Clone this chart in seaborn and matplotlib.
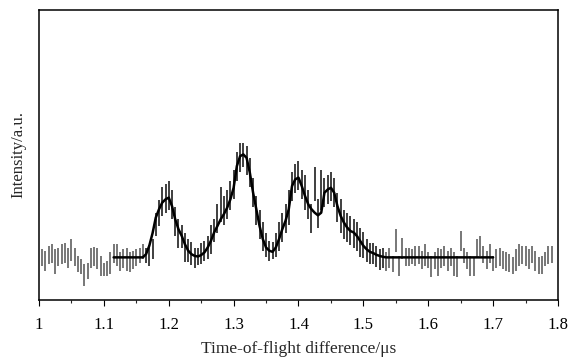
import numpy as np
import pandas as pd
import matplotlib
matplotlib.use("Agg")
import matplotlib.pyplot as plt
import seaborn as sns
from matplotlib.ticker import MultipleLocator

# ---- data (intensity in arbitrary units) ----
# left background bars
t_left = [1.005, 1.010, 1.015, 1.020, 1.025, 1.030, 1.035, 1.040, 1.045, 1.050,
          1.055, 1.060, 1.065, 1.070, 1.075, 1.080, 1.085, 1.090, 1.095, 1.100,
          1.105, 1.110, 1.115, 1.120, 1.125, 1.130, 1.135, 1.140, 1.145, 1.150,
          1.155, 1.160]
lo_left = [11.8, 10.1, 12.4, 12.9, 8.9, 11.8, 12.4, 12.9, 11.2, 13.5,
           11.8, 9.5, 8.9, 4.9, 7.2, 11.2, 11.8, 10.7, 8.4, 8.4,
           8.4, 8.9, 12.9, 11.8, 10.1, 11.2, 10.1, 9.5, 10.7, 11.8,
           12.9, 14.1]
hi_left = [17.5, 17.0, 18.7, 19.2, 17.5, 18.1, 19.2, 19.8, 18.1, 21.0,
           18.1, 15.2, 14.1, 12.4, 12.9, 18.1, 18.4, 18.1, 15.2, 12.9,
           13.5, 16.4, 19.2, 19.2, 16.4, 17.5, 18.1, 16.4, 17.0, 17.5,
           18.1, 19.2]

# peak region bars (centre and half length)
t_peak = [1.165, 1.170, 1.175, 1.180, 1.185, 1.190, 1.195, 1.200, 1.205, 1.210,
          1.215, 1.220, 1.225, 1.230, 1.235, 1.240, 1.245, 1.250, 1.255, 1.260,
          1.265, 1.270, 1.275, 1.280, 1.285, 1.290, 1.295, 1.300, 1.305, 1.310,
          1.315, 1.320, 1.325, 1.330, 1.335, 1.340, 1.345, 1.350, 1.355, 1.360,
          1.365, 1.370, 1.375, 1.380, 1.385, 1.390, 1.395, 1.400, 1.405, 1.410,
          1.415, 1.420, 1.425, 1.430, 1.435, 1.440, 1.445, 1.450, 1.455, 1.460,
          1.465, 1.470, 1.475, 1.480, 1.485, 1.490, 1.495, 1.500, 1.505, 1.510,
          1.515, 1.520, 1.525, 1.530]
c_peak = [15.5, 15.4, 17.5, 26, 30, 34, 35, 36, 33, 27,
          23, 22, 18, 17, 16, 14.5, 15, 16, 17, 18,
          21, 24, 28, 33, 31, 33, 36, 40, 46, 49,
          50, 48, 44, 37, 31, 26, 22, 19, 17, 17,
          19, 22, 25, 28, 32, 39, 42, 43, 40, 37,
          33, 28, 40, 30, 38, 37, 38, 39, 37, 32,
          29, 26, 25, 24, 23, 22, 20, 19, 17, 16,
          16, 15, 14, 14.5]
h_peak = [2.6, 3.7, 3.5, 4, 4.5, 5, 5, 5, 5, 5,
          5, 4, 5, 4, 4, 3.5, 3, 3.5, 3.5, 4,
          5, 4, 5, 6, 5, 5, 5, 5, 5, 5,
          4, 5, 5, 5, 5, 5, 5, 4, 3.5, 3,
          4, 5, 5, 5, 6, 5, 5, 5, 5, 6,
          5, 5, 6, 5, 7, 5, 5, 5, 5, 5,
          6, 5, 5, 5, 5, 5, 5, 4.5, 4, 3.5,
          3.5, 3.5, 3.5, 3.5]

# right background bars
t_right = [1.535, 1.540, 1.545, 1.550, 1.555, 1.560, 1.565, 1.570, 1.575, 1.580,
           1.585, 1.590, 1.595, 1.600, 1.605, 1.610, 1.615, 1.620, 1.625, 1.630,
           1.635, 1.640, 1.645, 1.650, 1.655, 1.660, 1.665, 1.670, 1.675, 1.680,
           1.685, 1.690, 1.695, 1.700, 1.705, 1.710, 1.715, 1.720, 1.725, 1.730,
           1.735, 1.740, 1.745, 1.750, 1.755, 1.760, 1.765, 1.770, 1.775, 1.780,
           1.785, 1.790]
lo_right = [10.1, 11.2, 9.5, 16.4, 8.4, 14.1, 11.8, 11.8, 12.4, 11.8,
            12.4, 10.7, 11.8, 11.2, 7.8, 10.7, 8.4, 11.2, 11.8, 10.1,
            11.8, 8.4, 7.8, 17.0, 12.9, 10.7, 8.4, 8.4, 14.7, 15.2,
            12.9, 10.7, 12.9, 10.1, 11.2, 11.8, 10.7, 10.1, 9.5, 8.9,
            10.1, 11.8, 12.4, 11.8, 10.7, 12.9, 10.1, 8.9, 8.9, 11.8,
            12.4, 12.9]
hi_right = [16.4, 18.1, 15.2, 24.4, 15.2, 21.4, 18.1, 18.1, 17.5, 18.7,
            18.7, 17.0, 19.2, 16.4, 15.2, 16.4, 18.1, 17.5, 18.7, 17.0,
            18.1, 16.4, 15.2, 23.8, 18.1, 16.4, 15.2, 14.7, 21.0, 22.1,
            18.7, 17.0, 19.2, 15.2, 17.5, 18.1, 17.0, 16.4, 15.8, 14.7,
            17.5, 19.2, 18.7, 18.7, 17.5, 18.7, 17.0, 14.7, 15.2, 16.4,
            18.7, 18.7]

# fitted / smoothed curve
t_fit = [1.115, 1.160] + t_peak + [1.535, 1.700]
y_fit = [14.7, 14.7,
         15.8, 18.7, 23.0, 28.4, 31.3, 33.6, 34.7, 35.3, 32.4, 27.8,
         24.4, 22.1, 19.2, 17.0, 15.8, 15.2, 15.0, 15.5, 16.4, 18.1,
         20.4, 23.3, 25.5, 27.8, 29.6, 31.8, 34.7, 38.7, 46.2, 49.6,
         50.2, 49.0, 43.9, 37.0, 31.3, 25.5, 21.0, 18.1, 17.0, 16.6,
         18.1, 21.0, 24.4, 27.3, 31.3, 39.3, 41.6, 42.2, 39.3, 35.9,
         33.0, 31.3, 30.1, 29.2, 30.1, 37.0, 38.1, 38.7, 37.0, 32.4,
         29.0, 26.7, 25.0, 23.8, 23.3, 22.1, 20.4, 18.7, 17.5, 16.6,
         16.2, 15.6, 15.2, 14.9,
         14.7, 14.7]

xtick_vals = [1.0, 1.1, 1.2, 1.3, 1.4, 1.5, 1.6, 1.7, 1.8]
xtick_labels = ["1", "1.1", "1.2", "1.3", "1.4", "1.5", "1.6", "1.7", "1.8"]

# ---- build tables ----
bg = pd.concat([
    pd.DataFrame({"t": t_left, "lo": lo_left, "hi": hi_left}),
    pd.DataFrame({"t": t_right, "lo": lo_right, "hi": hi_right}),
], ignore_index=True)
pk = pd.DataFrame({"t": t_peak,
                   "lo": np.array(c_peak) - np.array(h_peak),
                   "hi": np.array(c_peak) + np.array(h_peak)})
fit = pd.DataFrame({"t": t_fit, "y": y_fit})

sns.set_style("white")
plt.rcParams["font.family"] = ["Liberation Serif", "DejaVu Serif"]

fig = plt.figure(figsize=(5.70, 3.59), dpi=100)
ax = fig.add_axes([39 / 570, 59 / 359, 519 / 570, 290 / 359])

ax.vlines(bg["t"], bg["lo"], bg["hi"], colors="#606060", linewidth=1.2)
ax.vlines(pk["t"], pk["lo"], pk["hi"], colors="#303030", linewidth=1.3)
sns.lineplot(data=fit, x="t", y="y", ax=ax, color="black", linewidth=1.8,
             sort=False, estimator=None)

ax.set_xlim(1.0, 1.8)
ax.set_ylim(0, 100)
ax.set_xticks(xtick_vals)
ax.set_xticklabels(xtick_labels, fontsize=12)
ax.xaxis.set_minor_locator(MultipleLocator(0.05))
ax.tick_params(axis="x", which="major", direction="out", length=4, width=0.8,
               bottom=True, pad=8, colors="black")
ax.tick_params(axis="x", which="minor", direction="out", length=2.5, width=0.8,
               bottom=True)
ax.set_yticks([])
for s in ax.spines.values():
    s.set_color("black")
    s.set_linewidth(1.1)

ax.set_xlabel("Time-of-flight difference/μs", fontsize=12.5, labelpad=6)
ax.set_ylabel("Intensity/a.u.", fontsize=12, labelpad=9)

fig.savefig("out.png", dpi=100)
